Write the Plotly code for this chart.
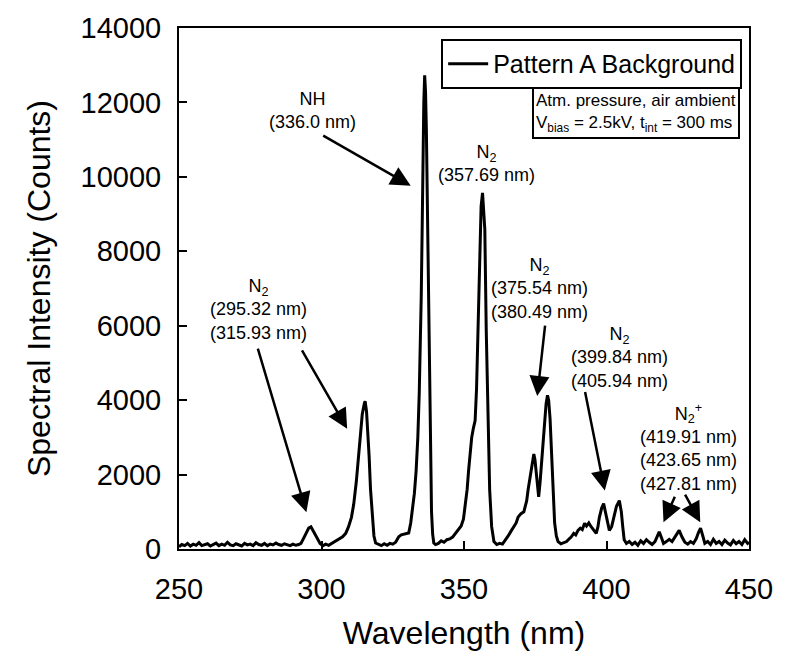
import plotly.graph_objects as go

# ---- data ----
wavelength = [
    250, 251, 252, 253, 254, 255, 256, 257, 258, 259, 260, 261, 262, 263, 264, 265, 266, 267, 268, 269,
    270, 271, 272, 273, 274, 275, 276, 277, 278, 279, 280, 281, 282, 283, 284, 285, 286, 287, 288, 289,
    290, 291, 292, 292.8, 293.8, 294.8, 295.5, 296.3, 297.0, 297.8, 298.6, 299.5, 300.5, 301.5, 302.5,
    303.5, 304.5, 305.5, 306.5, 307.4, 308.5, 309.5, 310.5, 311.3, 312.2, 313.0, 313.7, 314.3, 315.0,
    315.3, 315.8, 316.3, 316.7, 317.2, 317.8, 318.4, 319.0, 320, 321, 322, 323, 324, 325, 326, 327.1,
    328, 329, 330, 330.6, 331.3, 332, 332.6, 333.2, 333.8, 334.3, 334.6, 335.0, 335.3, 335.6, 335.9,
    336.2, 336.5, 336.8, 337.1, 337.4, 337.6, 337.9, 338.2, 338.6, 339.0, 339.4, 340, 341, 342, 343,
    344, 345, 346, 347, 348, 349, 349.8, 350.5, 351.1, 351.6, 352.1, 352.7, 353.3, 353.9, 354.4, 354.9,
    355.5, 356.0, 356.5, 356.9, 357.3, 357.8, 358.4, 359.0, 359.7, 360.5, 361.5, 362.5, 363.5, 364.4,
    365.5, 366.5, 367.5, 368.3, 369.0, 370, 371.0, 371.4, 372.0, 372.5, 373.2, 373.7, 374.2, 374.5,
    374.9, 375.4, 375.8, 376.2, 376.7, 377.2, 377.8, 378.3, 378.8, 379.3, 379.7, 380.2, 380.6, 380.9,
    381.4, 381.8, 382.4, 383.0, 384, 385, 386, 387, 387.6, 388.5, 389.2, 390.0, 390.8, 391.5, 392.3,
    393, 393.8, 394.6, 395.5, 396.4, 397.0, 397.5, 398.3, 399.0, 399.6, 400.3, 401.0, 401.8, 402.6,
    403.5, 404.5, 405.2, 405.7, 406.2, 407, 408, 409, 410, 411, 412, 413, 414, 415, 416, 417, 418.5,
    419.3, 420, 421, 422, 423, 424, 425.5, 426.5, 427.5, 428.5, 429.5, 430.5, 431.5, 432.3, 433.0,
    433.8, 434.5, 435.5, 436.5, 437.5, 438.5, 439.5, 440.5, 441.5, 442.5, 443.5, 444.5, 445.5, 446.5,
    447.5, 448.5, 449.5, 450,
]
counts = [
    60, 120, 90, 150, 80, 130, 100, 170, 90, 120, 140, 80, 110, 160, 90, 130, 100, 180, 110, 90,
    140, 120, 80, 150, 110, 130, 90, 170, 120, 100, 150, 90, 130, 110, 160, 120, 100, 140, 110, 90,
    130, 100, 120, 150, 300, 450, 560, 595, 500, 380, 250, 150, 90, 130, 100,
    150, 200, 230, 280, 330, 420, 600, 850, 1200, 1800, 2500, 3100, 3620, 3900,
    3970, 3700, 3100, 2500, 1600, 850, 350, 160, 120, 90, 140, 100, 150, 130, 180, 330,
    380, 400, 420, 430, 700, 1100, 1500, 2100, 3000, 4200, 5200, 6800, 8500, 10500, 12000,
    12730, 12300, 11260, 9500, 7500, 5700, 4000, 2400, 1000, 400, 160, 120, 150, 220, 180,
    250, 270, 320, 420, 550, 620, 800, 1200, 1600, 2100, 2600, 3000, 3250, 3450, 4300, 5900,
    8150, 9200, 9570, 9200, 8600, 5900, 3250, 1600, 600, 200, 120, 150, 130, 220,
    350, 480, 600, 700, 860, 950, 1000, 1100, 1300, 1600, 1900, 2150, 2400, 2550,
    2400, 2000, 1600, 1400, 1800, 2300, 3000, 3550, 3900, 4130, 4000, 3500, 2800, 2200,
    1300, 700, 350, 200, 140, 180, 200, 280, 320, 420, 380, 500, 560, 520, 690,
    620, 700, 600, 500, 420, 600, 850, 1100, 1220, 1000, 700, 500, 600, 850,
    1150, 1300, 1000, 600, 250, 150, 200, 120, 180, 100, 220, 150, 250, 180, 120, 200, 460,
    300, 150, 200, 260, 200, 320, 500, 320, 180, 130, 200, 150, 280, 450, 560,
    350, 150, 200, 120, 260, 150, 200, 120, 240, 160, 110, 230, 140, 200,
    120, 250, 150, 180,
]

x_ticks = [250, 300, 350, 400, 450]
y_ticks = [0, 2000, 4000, 6000, 8000, 10000, 12000, 14000]

# label blocks: text, x (nm), y (counts)
label_texts = [
    "NH<br>(336.0 nm)",
    "N<sub>2</sub><br>(357.69 nm)",
    "N<sub>2</sub><br>(295.32 nm)<br>(315.93 nm)",
    "N<sub>2</sub><br>(375.54 nm)<br>(380.49 nm)",
    "N<sub>2</sub><br>(399.84 nm)<br>(405.94 nm)",
    "N<sub>2</sub><sup>+</sup><br>(419.91 nm)<br>(423.65 nm)<br>(427.81 nm)",
]
label_x = [296.8, 357.9, 277.9, 376.4, 404.6, 428.7]
label_y = [11790, 10370, 6430, 7010, 5150, 2720]

# arrows: tip (nm, counts) and tail offset (px)
arrow_x = [331.3, 294.7, 309.0, 375.7, 399.4, 420.0, 432.9]
arrow_y = [9760, 990, 3230, 4110, 1570, 720, 720]
arrow_ax = [-89, -49, -46, 8, -20, 12, -16]
arrow_ay = [-51, -165, -80, -72, -100, -27, -29]

FONT = "Liberation Sans, Arial, sans-serif"

fig = go.Figure()
fig.add_trace(go.Scatter(
    x=wavelength, y=counts, mode="lines", name="Pattern A Background",
    line=dict(color="black", width=3),
))

annotations = []
for t, x, y in zip(label_texts, label_x, label_y):
    annotations.append(dict(
        x=x, y=y, xref="x", yref="y", text=t, showarrow=False,
        font=dict(family=FONT, size=18, color="black"), align="center",
        xanchor="center", yanchor="middle",
    ))
for x, y, ax, ay in zip(arrow_x, arrow_y, arrow_ax, arrow_ay):
    annotations.append(dict(
        x=x, y=y, xref="x", yref="y", text="", showarrow=True,
        ax=ax, ay=ay, arrowhead=2, arrowsize=1.6, arrowwidth=2.5, arrowcolor="black",
    ))
annotations.append(dict(
    x=0.984, y=0.886, xref="paper", yref="paper", xanchor="right", yanchor="top",
    text="Atm. pressure, air ambient<br>V<sub>bias</sub> = 2.5kV, t<sub>int</sub> = 300 ms",
    showarrow=False, align="left", bordercolor="black", borderwidth=2, borderpad=2,
    bgcolor="white", font=dict(family=FONT, size=17, color="black"),
))

fig.update_layout(
    width=785, height=659,
    margin=dict(l=179, r=33, t=24, b=110),
    paper_bgcolor="white", plot_bgcolor="white",
    font=dict(family=FONT, color="black"),
    showlegend=True,
    legend=dict(
        x=0.988, y=0.979, xanchor="right", yanchor="top",
        bordercolor="black", borderwidth=2, bgcolor="white",
        font=dict(family=FONT, size=25, color="black"),
        itemwidth=40,
    ),
    annotations=annotations,
)
fig.update_xaxes(
    range=[250, 450], tickvals=x_ticks, ticktext=[str(v) for v in x_ticks],
    showgrid=False, zeroline=False, showline=True, linecolor="black", linewidth=2, mirror=True,
    ticks="inside", ticklen=8, tickwidth=2, tickcolor="black",
    tickfont=dict(family=FONT, size=29, color="black"), ticklabelstandoff=13,
    title=dict(text="Wavelength (nm)", font=dict(family=FONT, size=32, color="black"), standoff=18),
)
fig.update_yaxes(
    range=[0, 14000], tickvals=y_ticks, ticktext=[str(v) for v in y_ticks],
    showgrid=False, zeroline=False, showline=True, linecolor="black", linewidth=2, mirror=True,
    ticks="inside", ticklen=8, tickwidth=2, tickcolor="black",
    tickfont=dict(family=FONT, size=29, color="black"), ticklabelstandoff=10,
    title=dict(text="Spectral Intensity (Counts)", font=dict(family=FONT, size=32, color="black"), standoff=20),
)

fig.write_html("out.html")
